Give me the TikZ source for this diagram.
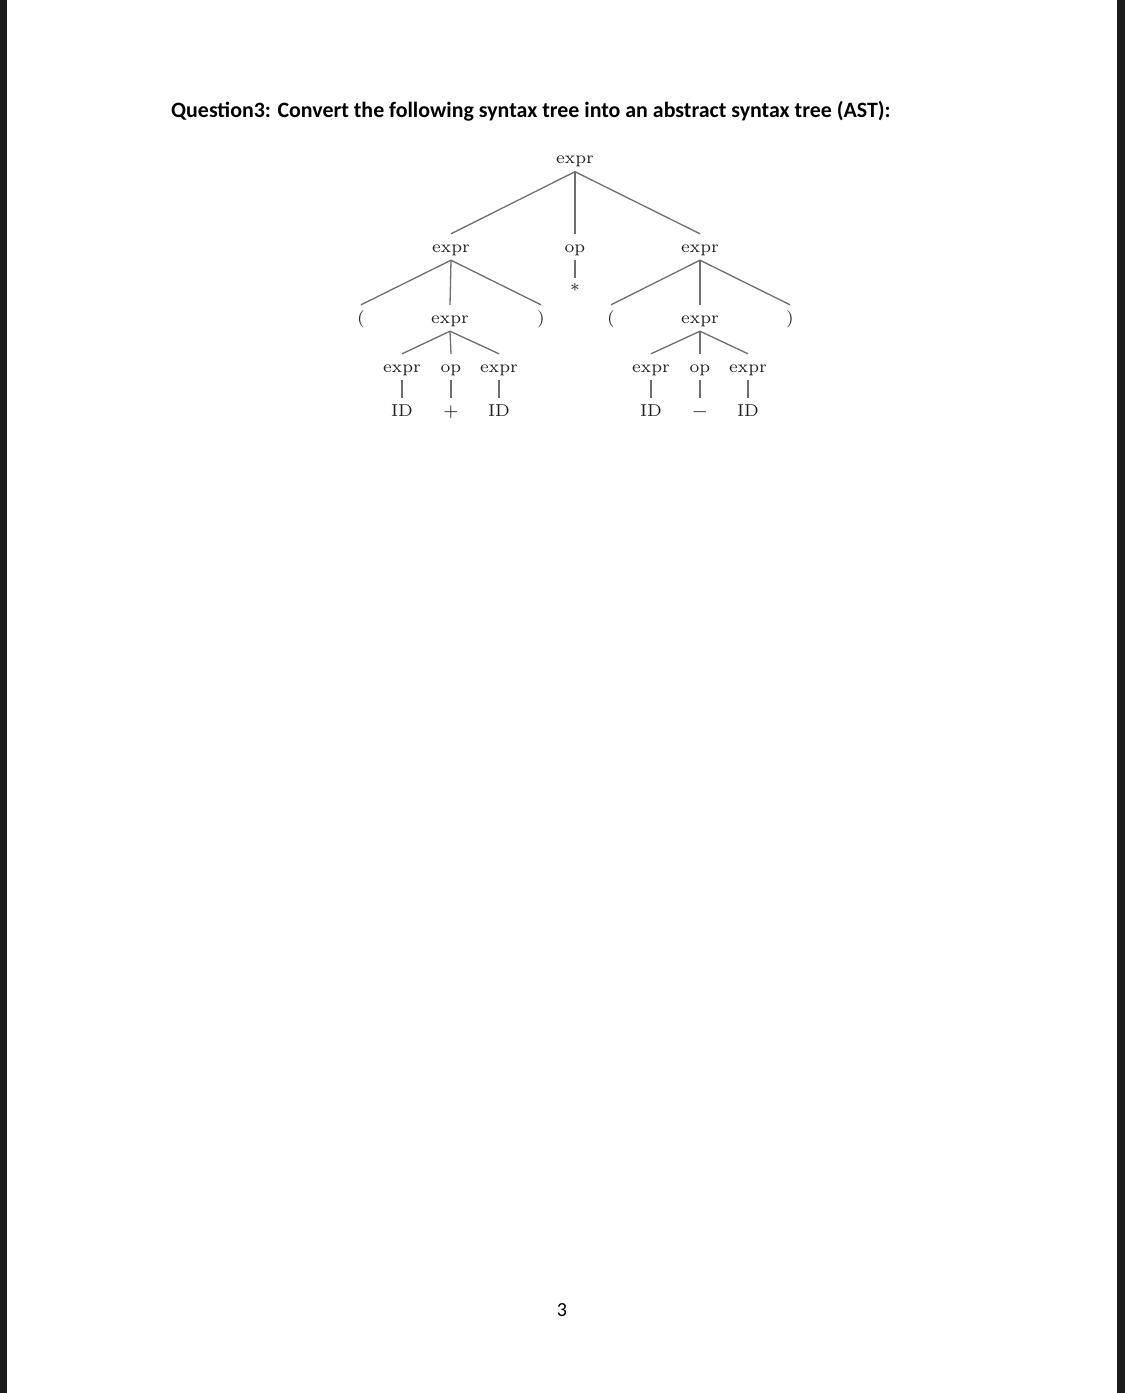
\documentclass[tikz,border=0pt]{standalone}
\usepackage{fontspec}
\newfontfamily\calib{Carlito}
\newfontfamily\treefont{lmroman7-regular}[Extension=.otf]
\definecolor{treetext}{HTML}{222222}
\definecolor{treeline}{HTML}{6E6E6E}
\definecolor{stripblack}{HTML}{1C1C1C}
\begin{document}
\begin{tikzpicture}[x=1pt,y=-1pt,
  tn/.style={anchor=base, inner sep=0pt, text height=18pt, text depth=8pt,
    font=\treefont\fontsize{17.2}{21}\selectfont, text=treetext},
  edge/.style={draw=treeline, line width=1.3pt}]
\fill[white] (0,0) rectangle (1125,1393);
\path[use as bounding box] (0,0) rectangle (1125,1393);
\fill[stripblack] (0,0) rectangle (7,1393);
\fill[stripblack] (1117,0) rectangle (1125,1393);
% title
\node[anchor=base west, inner sep=0pt, font=\calib\bfseries\fontsize{21.9}{26}\selectfont] (title) at (171,117.5)
  {Question3: Convert the following syntax tree into an abstract syntax tree (AST):};
% tree
\node[tn] (r) at (575,163.5) {expr};
\node[tn] (a) at (451,252) {expr};
\node[tn] (b) at (575,252) {op};
\node[tn] (c) at (700,252) {expr};
\node[tn] (bs) at (575,296) {*};
\node[tn] (a1) at (361,323) {(};
\node[tn] (a2) at (450,323) {expr};
\node[tn] (a3) at (541,323) {)};
\node[tn] (c1) at (611,323) {(};
\node[tn] (c2) at (700,323) {expr};
\node[tn] (c3) at (790,323) {)};
\node[tn] (a21) at (402,372) {expr};
\node[tn] (a22) at (451,372) {op};
\node[tn] (a23) at (499,372) {expr};
\node[tn] (c21) at (651,372) {expr};
\node[tn] (c22) at (700,372) {op};
\node[tn] (c23) at (748,372) {expr};
\node[tn] (a31) at (402,416) {ID};
\node[tn] (a32) at (451,416) {+};
\node[tn] (a33) at (499,416) {ID};
\node[tn] (c31) at (651,416) {ID};
\node[tn] (c32) at (700,416) {−};
\node[tn] (c33) at (748,416) {ID};
\foreach \p/\q in {r/a, r/b, r/c, b/bs, a/a1, a/a2, a/a3, c/c1, c/c2, c/c3,
  a2/a21, a2/a22, a2/a23, c2/c21, c2/c22, c2/c23,
  a21/a31, a22/a32, a23/a33, c21/c31, c22/c32, c23/c33}
  \draw[edge] (\p.south) -- (\q.north);
% page number
\node[anchor=base, inner sep=0pt, font=\calib\fontsize{20}{24}\selectfont] (pg) at (562,1316.7) {3};
\end{tikzpicture}
\end{document}
